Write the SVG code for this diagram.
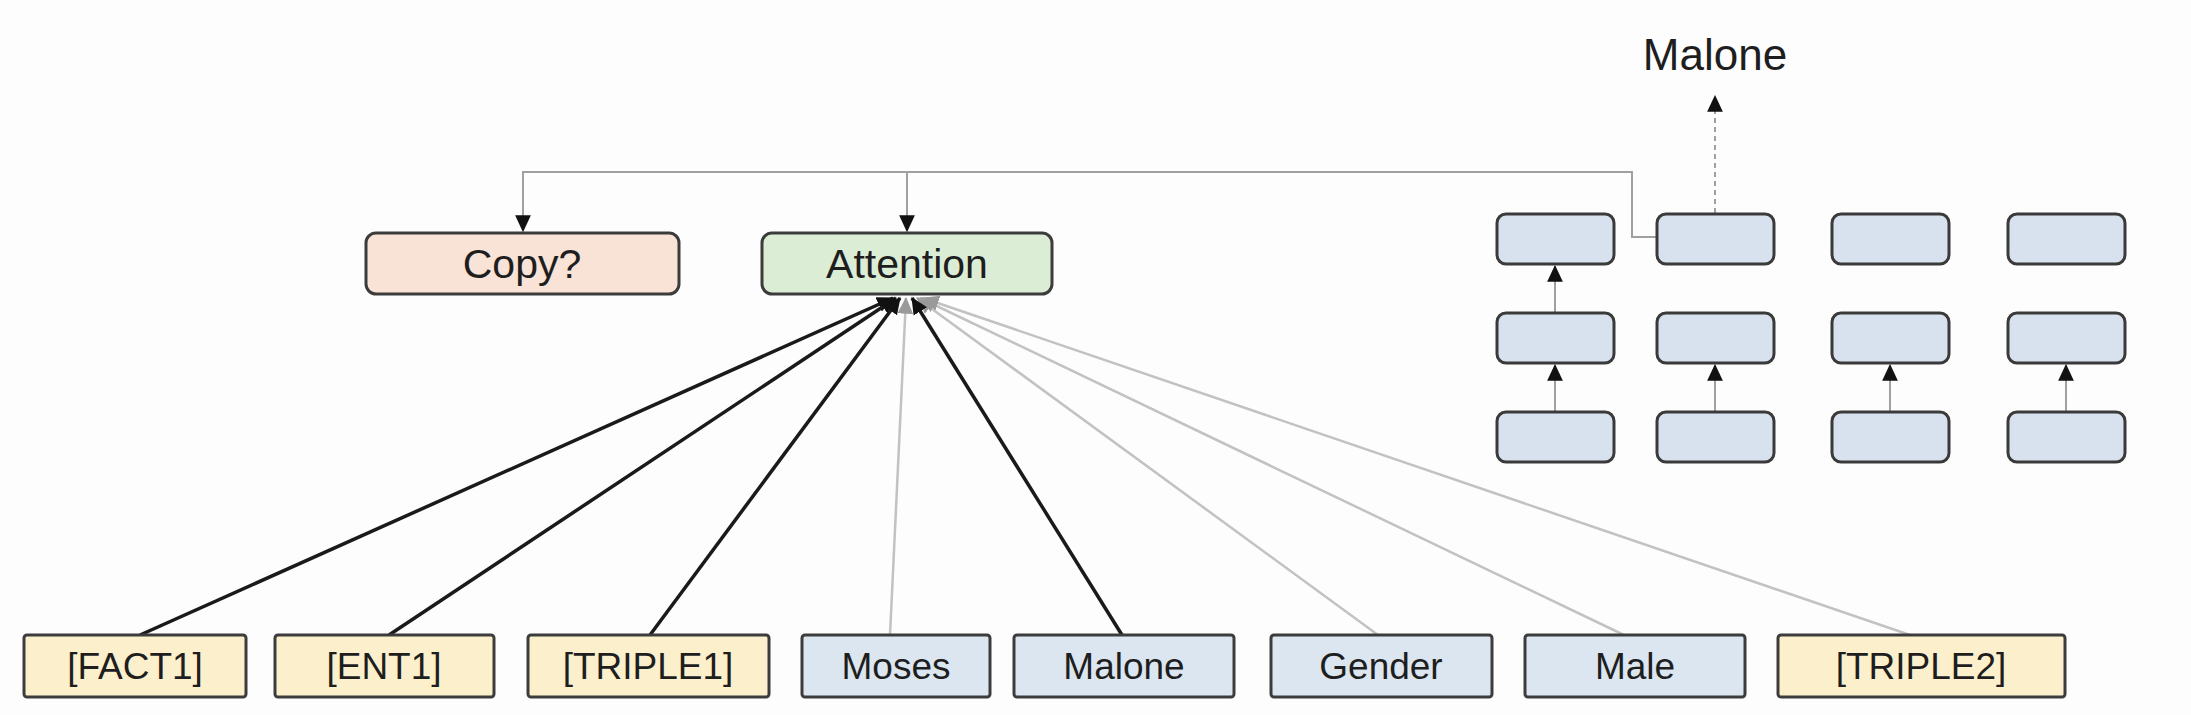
<svg xmlns="http://www.w3.org/2000/svg" width="2191" height="715" viewBox="0 0 2191 715">
<defs>
<marker id="ah" markerUnits="userSpaceOnUse" markerWidth="18" markerHeight="18" viewBox="0 0 16 16" refX="14" refY="8" orient="auto">
<path d="M0,1 L15,8 L0,15 Z" fill="#111"/>
</marker>
<marker id="ahl" markerUnits="userSpaceOnUse" markerWidth="18" markerHeight="18" viewBox="0 0 16 16" refX="14" refY="8" orient="auto">
<path d="M0,1 L15,8 L0,15 Z" fill="#9a9a9a"/>
</marker>
<style>
.box{stroke:#3c3c3c;stroke-width:3}
.copy{fill:#f9e2d6}
.att{fill:#dcedd6}
.yel{fill:#fcf0cc}
.blu{fill:#dbe6f1}
.cell{fill:#d8e2ee;stroke:#3a3a3a;stroke-width:3}
.t{font-family:"Liberation Sans",Arial,sans-serif;fill:#1e1e1e;text-anchor:middle}
.big{font-size:41px}
.lab{font-size:37px}
.dark{stroke:#1a1a1a;stroke-width:3.5;fill:none}
.light{stroke:#c2c2c2;stroke-width:2.5;fill:none}
.gray{stroke:#a0a0a0;stroke-width:2;fill:none}
</style>
</defs>
<rect width="2191" height="715" fill="#fdfdfd"/>

<g id="connectors">
<path class="gray" d="M1656,237 H1632 V172 H523 V231" marker-end="url(#ah)"/>
<path class="gray" d="M907,172 V231" marker-end="url(#ah)"/>
<path class="gray" d="M1715,213 V96" stroke-dasharray="5,4" marker-end="url(#ah)"/>
<path class="gray" d="M1555,313 V266" marker-end="url(#ah)"/>
<path class="gray" d="M1555,412 V365" marker-end="url(#ah)"/>
<path class="gray" d="M1715,412 V365" marker-end="url(#ah)"/>
<path class="gray" d="M1890,412 V365" marker-end="url(#ah)"/>
<path class="gray" d="M2066,412 V365" marker-end="url(#ah)"/>
<path class="light" d="M890,635 L906,298" marker-end="url(#ahl)"/>
<path class="light" d="M1378,635 L917,298" marker-end="url(#ahl)"/>
<path class="light" d="M1624,635 L920,298" marker-end="url(#ahl)"/>
<path class="light" d="M1910,635 L923,298" marker-end="url(#ahl)"/>
<path class="dark" d="M140,635 L893,298" marker-end="url(#ah)"/>
<path class="dark" d="M389,635 L896,298" marker-end="url(#ah)"/>
<path class="dark" d="M650,635 L900,298" marker-end="url(#ah)"/>
<path class="dark" d="M1122,635 L912,298" marker-end="url(#ah)"/>
</g>

<g id="copy"><rect class="box copy" x="366" y="233" width="313" height="61" rx="10"/><text class="t big" x="522" y="278">Copy?</text></g>
<g id="attention"><rect class="box att" x="762" y="233" width="290" height="61" rx="10"/><text class="t big" x="907" y="278">Attention</text></g>

<g id="malone-out"><text class="t" style="font-size:44px" x="1715" y="70">Malone</text></g>

<g id="cell-1-1"><rect class="cell" x="1497" y="214" width="117" height="50" rx="9"/></g>
<g id="cell-1-2"><rect class="cell" x="1657" y="214" width="117" height="50" rx="9"/></g>
<g id="cell-1-3"><rect class="cell" x="1832" y="214" width="117" height="50" rx="9"/></g>
<g id="cell-1-4"><rect class="cell" x="2008" y="214" width="117" height="50" rx="9"/></g>
<g id="cell-2-1"><rect class="cell" x="1497" y="313" width="117" height="50" rx="9"/></g>
<g id="cell-2-2"><rect class="cell" x="1657" y="313" width="117" height="50" rx="9"/></g>
<g id="cell-2-3"><rect class="cell" x="1832" y="313" width="117" height="50" rx="9"/></g>
<g id="cell-2-4"><rect class="cell" x="2008" y="313" width="117" height="50" rx="9"/></g>
<g id="cell-3-1"><rect class="cell" x="1497" y="412" width="117" height="50" rx="9"/></g>
<g id="cell-3-2"><rect class="cell" x="1657" y="412" width="117" height="50" rx="9"/></g>
<g id="cell-3-3"><rect class="cell" x="1832" y="412" width="117" height="50" rx="9"/></g>
<g id="cell-3-4"><rect class="cell" x="2008" y="412" width="117" height="50" rx="9"/></g>

<g id="fact1"><rect class="box yel" x="24" y="635" width="222" height="62" rx="3"/><text class="t lab" x="135" y="679">[FACT1]</text></g>
<g id="ent1"><rect class="box yel" x="275" y="635" width="219" height="62" rx="3"/><text class="t lab" x="384" y="679">[ENT1]</text></g>
<g id="triple1"><rect class="box yel" x="528" y="635" width="241" height="62" rx="3"/><text class="t lab" x="648" y="679">[TRIPLE1]</text></g>
<g id="moses"><rect class="box blu" x="802" y="635" width="188" height="62" rx="3"/><text class="t lab" x="896" y="679">Moses</text></g>
<g id="malone"><rect class="box blu" x="1014" y="635" width="220" height="62" rx="3"/><text class="t lab" x="1124" y="679">Malone</text></g>
<g id="gender"><rect class="box blu" x="1271" y="635" width="221" height="62" rx="3"/><text class="t lab" x="1381" y="679">Gender</text></g>
<g id="male"><rect class="box blu" x="1525" y="635" width="220" height="62" rx="3"/><text class="t lab" x="1635" y="679">Male</text></g>
<g id="triple2"><rect class="box yel" x="1778" y="635" width="287" height="62" rx="3"/><text class="t lab" x="1921" y="679">[TRIPLE2]</text></g>
</svg>
